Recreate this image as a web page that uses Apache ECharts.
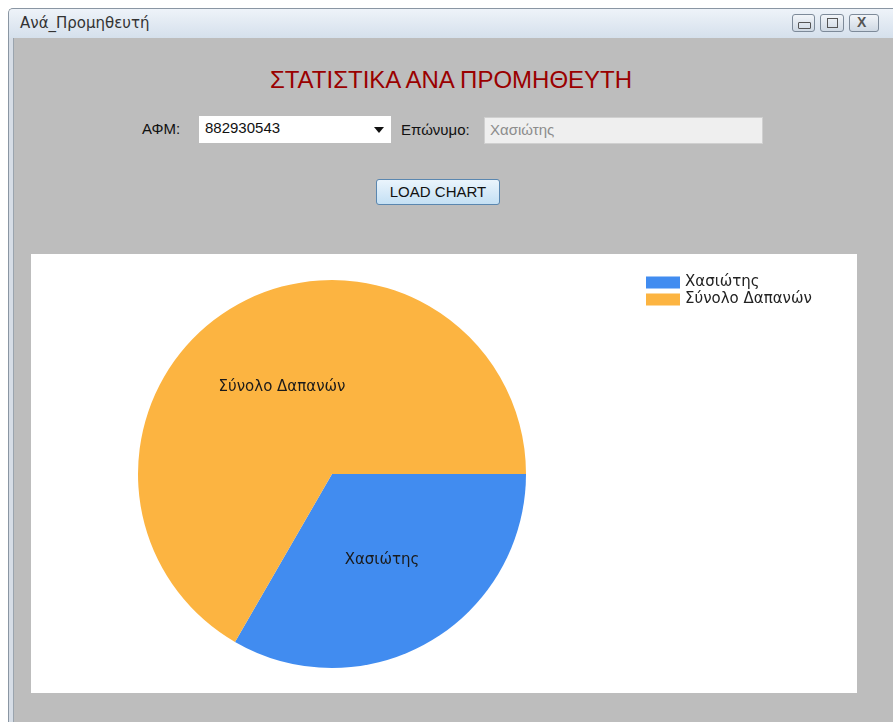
<!DOCTYPE html>
<html>
<head>
<meta charset="utf-8">
<script src="https://cdn.jsdelivr.net/npm/echarts@6/dist/echarts.min.js"></script>
<style>
  html, body { margin:0; padding:0; width:893px; height:722px; background:#ffffff; overflow:hidden; font-family:"Liberation Sans", Arial, sans-serif; }
  #win { position:absolute; left:8px; top:8px; width:885px; height:714px; background:#bdbdbd; border-left:1px solid #8a96a3; border-top:1px solid #8a96a3; border-radius:5px 0 0 0; box-sizing:border-box; }
  #leftedge { position:absolute; left:9px; top:38px; width:4px; height:684px; background:#d6dde6; border-right:1px solid #9aa4ae; }
  #titlebar { position:absolute; left:9px; top:9px; width:884px; height:29px; background:linear-gradient(#eef3f9, #d5e0ec); border-radius:4px 0 0 0; }
  #titletext { position:absolute; left:20px; top:14px; font-size:15px; color:#333; font-family:"DejaVu Sans", sans-serif; white-space:nowrap; }
  .tbtn { position:absolute; top:14px; height:18px; border:1px solid #7d8a99; border-radius:3px; background:linear-gradient(#f2f5f9,#cfd9e4); box-sizing:border-box; }
  #heading { position:absolute; left:250px; top:66px; width:402px; text-align:center; color:#9a0000; font-size:24px; white-space:nowrap; }
  .lbl { position:absolute; font-size:15px; color:#111; white-space:nowrap; }
  #combo { position:absolute; left:199px; top:116px; width:192px; height:27px; background:#fff; box-sizing:border-box; }
  #combo span { position:absolute; left:6px; top:3px; font-size:15px; color:#111; }
  #arrow { position:absolute; right:7px; top:11px; width:0; height:0; border-left:5px solid transparent; border-right:5px solid transparent; border-top:6px solid #111; }
  #tbox { position:absolute; left:484px; top:117px; width:279px; height:27px; background:#efefef; border:1px solid #d0d0d0; box-sizing:border-box; }
  #tbox span { position:absolute; left:5px; top:3px; font-size:15px; color:#8c8c8c; }
  #btn { position:absolute; left:376px; top:179px; width:124px; height:26px; border:1px solid #5a87b0; border-radius:3px; background:linear-gradient(#eaf4fc,#c4e0f4); box-sizing:border-box; text-align:center; font-size:15px; line-height:24px; color:#111; }
  #chart { position:absolute; left:31px; top:254px; width:826px; height:439px; background:#ffffff; }
</style>
</head>
<body>
<div id="win"></div>
<div id="leftedge"></div>
<div id="titlebar"></div>
<div id="titletext">Ανά_Προμηθευτή</div>
<div class="tbtn" style="left:792px;width:23px;"></div>
<div class="tbtn" style="left:820px;width:24px;"></div>
<div class="tbtn" style="left:849px;width:30px;"></div>
<div style="position:absolute;left:798px;top:22px;width:11px;height:5px;border:1px solid #555;border-radius:1px;"></div>
<div style="position:absolute;left:827px;top:18px;width:9px;height:8px;border:1px solid #555;"></div>
<div style="position:absolute;left:857px;top:14px;font-size:14px;color:#555;font-weight:bold;">X</div>

<div id="heading">ΣΤΑΤΙΣΤΙΚΑ ΑΝΑ ΠΡΟΜΗΘΕΥΤΗ</div>
<div class="lbl" style="left:142px;top:120px;">ΑΦΜ:</div>
<div id="combo"><span>882930543</span><div id="arrow"></div></div>
<div class="lbl" style="left:401px;top:121px;">Επώνυμο:</div>
<div id="tbox"><span>Χασιώτης</span></div>
<div id="btn">LOAD CHART</div>

<div id="chart"></div>
<script>
var categories = ['Χασιώτης', 'Σύνολο Δαπανών'];
var values = [1000, 2000];
var colors = ['#418CF0', '#FCB441'];

var chart = echarts.init(document.getElementById('chart'), null, {renderer: 'canvas'});
chart.setOption({
  animation: false,
  backgroundColor: '#ffffff',
  color: colors,
  legend: {
    orient: 'vertical',
    left: 610,
    top: 16,
    itemWidth: 34,
    itemHeight: 12,
    itemGap: 2,
    icon: 'rect',
    textStyle: { fontFamily: 'DejaVu Sans', fontSize: 15, lineHeight: 15, color: '#222' },
    data: categories
  },
  series: [{
    type: 'pie',
    center: [301, 220],
    radius: [0, 194],
    startAngle: 0,
    clockwise: true,
    label: {
      position: 'inside',
      formatter: '{b}',
      fontFamily: 'DejaVu Sans',
      fontSize: 15,
      color: '#1a1a1a'
    },
    labelLine: { show: false },
    itemStyle: { borderWidth: 0 },
    emphasis: { disabled: true },
    data: categories.map(function (c, i) { return { name: c, value: values[i] }; })
  }]
});
</script>
</body>
</html>
